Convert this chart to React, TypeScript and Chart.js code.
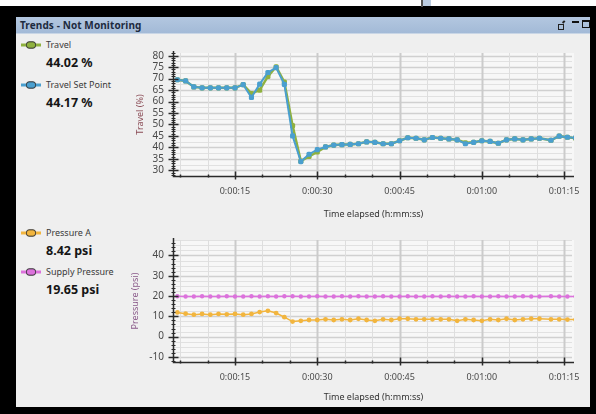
import React, { useEffect, useRef } from 'react';
import { Chart, registerables } from 'chart.js';

Chart.register(...registerables);

// ---------- data ----------
const TIME_S = [
  4.5, 6, 7.5, 9, 10.5, 12, 13.5, 15, 16.5, 18, 19.5, 21, 22.5, 24, 25.5, 27, 28.5,
  30, 31.5, 33, 34.5, 36, 37.5, 39, 40.5, 42, 43.5, 45, 46.5, 48, 49.5, 51, 52.5,
  54, 55.5, 57, 58.5, 60, 61.5, 63, 64.5, 66, 67.5, 69, 70.5, 72.6, 74.1, 75.6, 77.1,
];
const TRAVEL = [
  69.5, 69, 66.4, 66, 66, 66, 66, 66, 67.4, 63.5, 65, 71, 75.2, 68.5, 49.5, 34, 36,
  38, 40.2, 41, 41.2, 41.3, 41.6, 42.4, 42.2, 41.6, 41.6, 42.9, 44.2, 44, 43.3, 44.3,
  44, 43.7, 43.3, 42.0, 42.2, 42.9, 42.6, 41.8, 43.3, 43.7, 43.3, 43.7, 44, 43.1,
  44.9, 44.4, 44.0,
];
const TRAVEL_SET_POINT = [
  69.5, 69, 66.4, 66, 66, 66, 66, 66, 67.4, 61.8, 67.6, 72.7, 74.8, 67.5, 45, 33.8, 37,
  39, 40.2, 41, 41.2, 41.3, 41.6, 42.4, 42.2, 41.6, 41.6, 42.9, 44.2, 44, 43.3, 44.3,
  44, 43.7, 43.3, 41.6, 42.2, 42.9, 42.6, 41.8, 43.3, 43.7, 43.3, 43.7, 44, 43.1,
  44.9, 44.4, 44.2,
];
const PRESSURE_A = [
  11.9, 11.3, 10.8, 11.2, 10.8, 11.2, 11.0, 11.2, 10.8, 11.2, 12.1, 12.7, 11.6, 9.6,
  7.4, 7.8, 8.2, 8.2, 8.5, 8.2, 8.5, 8.2, 8.8, 8.2, 7.8, 8.5, 8.2, 8.8, 8.8, 8.5, 8.5,
  8.5, 8.5, 8.5, 7.8, 8.5, 8.2, 7.8, 8.5, 8.2, 8.8, 8.2, 8.5, 8.8, 8.8, 8.5, 8.5, 8.4,
  8.4,
];
const SUPPLY_PRESSURE = [
  19.9, 19.8, 19.8, 19.9, 19.8, 19.8, 19.9, 19.8, 19.8, 19.9, 19.8, 19.9, 19.8, 19.9,
  19.9, 19.8, 19.8, 19.9, 19.8, 19.8, 19.9, 19.8, 19.9, 19.8, 19.8, 19.9, 19.8, 19.8,
  19.9, 19.8, 19.8, 19.9, 19.8, 19.9, 19.8, 19.8, 19.9, 19.8, 19.8, 19.9, 19.8, 19.8,
  19.9, 19.8, 19.8, 19.9, 19.8, 19.8, 19.8,
];
const X_TICKS = [15, 30, 45, 60, 75];
const X_TICK_LABELS = ['0:00:15', '0:00:30', '0:00:45', '0:01:00', '0:01:15'];
const TRAVEL_Y_TICKS = [30, 35, 40, 45, 50, 55, 60, 65, 70, 75, 80];
const PRESSURE_Y_TICKS = [-10, 0, 10, 20, 30, 40];

const FONT = '"Noto Sans", "Open Sans", sans-serif';

const C_TRAVEL = '#8fb13f';
const C_SETPOINT = '#4a9fcf';
const C_PA = '#f2b53e';
const C_SUPPLY = '#dc72dc';

// ---------- custom grid / axis plugin ----------
const trendAxes = {
  id: 'trendAxes',
  beforeDatasetsDraw(chart: any, _args: any, opts: any) {
    const { ctx, chartArea: a, scales } = chart;
    const xs = scales.x;
    const ys = scales.y;
    ctx.save();
    ctx.fillStyle = '#f7f7f7';
    ctx.fillRect(a.left, a.top, a.right - a.left, a.bottom - a.top);
    const g = opts.yGrid;
    for (let v = Math.ceil(ys.min / g) * g; v <= ys.max + 1e-9; v += g) {
      const y = Math.round(ys.getPixelForValue(v)) + 0.5;
      const major = Math.abs(v / opts.yMajor - Math.round(v / opts.yMajor)) < 1e-6;
      ctx.strokeStyle = major ? '#d0d0d0' : '#e1e1e1';
      ctx.lineWidth = major ? 1.5 : 1;
      ctx.beginPath();
      ctx.moveTo(a.left, y);
      ctx.lineTo(a.right - 2, y);
      ctx.stroke();
    }
    for (let t = Math.ceil(xs.min / 5) * 5; t <= xs.max + 1e-9; t += 5) {
      const x = Math.round(xs.getPixelForValue(t)) + 0.5;
      const major = t % 15 === 0;
      ctx.strokeStyle = major ? '#cbcbcb' : '#dedede';
      ctx.lineWidth = major ? 2 : 1;
      ctx.beginPath();
      ctx.moveTo(x, a.top);
      ctx.lineTo(x, a.bottom);
      ctx.stroke();
    }
    ctx.restore();
  },
  afterDraw(chart: any, _args: any, opts: any) {
    const { ctx, chartArea: a, scales } = chart;
    const xs = scales.x;
    const ys = scales.y;
    ctx.save();
    ctx.strokeStyle = '#2b2b2b';
    ctx.lineWidth = 1.5;
    const lx = Math.round(a.left) + 0.5;
    const by = Math.round(a.bottom) + 0.5;
    ctx.beginPath();
    ctx.moveTo(lx, a.top - 2);
    ctx.lineTo(lx, by);
    ctx.lineTo(a.right, by);
    ctx.stroke();
    const m = opts.yMinor;
    for (let v = Math.ceil(ys.min / m) * m; v <= ys.max + 1e-9; v += m) {
      const y = Math.round(ys.getPixelForValue(v)) + 0.5;
      const major = Math.abs(v / opts.yLabelStep - Math.round(v / opts.yLabelStep)) < 1e-6;
      ctx.lineWidth = major ? 1.5 : 1;
      ctx.beginPath();
      ctx.moveTo(lx - (major ? 5 : 2), y);
      ctx.lineTo(lx + (major ? 5 : 2), y);
      ctx.stroke();
    }
    for (let t = Math.ceil(xs.min / 5) * 5; t <= xs.max + 1e-9; t += 5) {
      const x = Math.round(xs.getPixelForValue(t)) + 0.5;
      const major = t % 15 === 0;
      ctx.lineWidth = 1.5;
      ctx.beginPath();
      ctx.moveTo(x, by - (major ? 5 : 2));
      ctx.lineTo(x, by + (major ? 3 : 1));
      ctx.stroke();
    }
    ctx.restore();
  },
};

function xy(values: number[]) {
  return values.map((v, i) => ({ x: TIME_S[i], y: v }));
}

function baseOptions(
  yMin: number,
  yMax: number,
  yTicks: number[],
  yTitle: string,
  yTitleColor: string,
  yTitlePad: number,
  xHeight: number,
  topPad: number,
  plug: any,
) {
  const tickFont = { family: FONT, size: 9 };
  return {
    animation: false,
    responsive: false,
    maintainAspectRatio: false,
    events: [],
    layout: { padding: { top: topPad, right: 16, left: 0, bottom: 0 } },
    plugins: {
      legend: { display: false },
      tooltip: { enabled: false },
      trendAxes: plug,
    },
    scales: {
      x: {
        type: 'linear',
        min: 3.7,
        max: 76.8,
        grid: { display: false, drawTicks: false },
        border: { display: false },
        afterBuildTicks: (s: any) => {
          s.ticks = X_TICKS.map((v) => ({ value: v }));
        },
        ticks: {
          padding: 10,
          font: tickFont,
          color: '#4a4a4a',
          maxRotation: 0,
          autoSkip: false,
          callback: (v: number) => X_TICK_LABELS[X_TICKS.indexOf(v)] ?? '',
        },
        title: {
          display: true,
          text: 'Time elapsed (h:mm:ss)',
          color: '#333333',
          font: { family: FONT, size: 9 },
          padding: { top: 0, bottom: 4 },
        },
        afterFit: (s: any) => {
          s.height = xHeight;
        },
      },
      y: {
        type: 'linear',
        min: yMin,
        max: yMax,
        grid: { display: false, drawTicks: false },
        border: { display: false },
        afterBuildTicks: (s: any) => {
          s.ticks = yTicks.map((v) => ({ value: v }));
        },
        ticks: {
          padding: 9,
          font: { family: FONT, size: 10 },
          color: '#4a4a4a',
          autoSkip: false,
        },
        title: {
          display: true,
          text: yTitle,
          color: yTitleColor,
          font: { family: FONT, size: 9 },
          padding: { top: yTitlePad, bottom: 0 },
        },
        afterFit: (s: any) => {
          s.width = 48;
        },
      },
    },
  };
}

function TravelChart() {
  const ref = useRef<HTMLCanvasElement>(null);
  useEffect(() => {
    const chart = new Chart(ref.current as HTMLCanvasElement, {
      type: 'line',
      data: {
        datasets: [
          {
            label: 'Travel Set Point',
            data: xy(TRAVEL_SET_POINT),
            borderColor: C_SETPOINT,
            backgroundColor: C_SETPOINT,
            borderWidth: 2,
            pointStyle: 'rectRounded',
            pointRadius: 3,
            pointBorderWidth: 0,
            tension: 0,
            clip: 0,
            order: 0,
          },
          {
            label: 'Travel',
            data: xy(TRAVEL),
            borderColor: C_TRAVEL,
            backgroundColor: C_TRAVEL,
            borderWidth: 2.5,
            pointStyle: 'rectRounded',
            pointRadius: 3,
            pointBorderWidth: 0,
            tension: 0,
            clip: 0,
            order: 1,
          },
        ],
      },
      options: baseOptions(27.5, 81.2, TRAVEL_Y_TICKS, 'Travel (%)', '#8a4b55', 10, 48, 10, {
        yGrid: 2.5,
        yMajor: 5,
        yMinor: 1,
        yLabelStep: 5,
      }) as any,
      plugins: [trendAxes],
    });
    return () => chart.destroy();
  }, []);
  return (
    <canvas
      ref={ref}
      width={465}
      height={186}
      style={{ position: 'absolute', left: 125, top: 38, width: 465, height: 186 }}
    />
  );
}

function PressureChart() {
  const ref = useRef<HTMLCanvasElement>(null);
  useEffect(() => {
    const chart = new Chart(ref.current as HTMLCanvasElement, {
      type: 'line',
      data: {
        datasets: [
          {
            label: 'Supply Pressure',
            data: xy(SUPPLY_PRESSURE),
            borderColor: C_SUPPLY,
            backgroundColor: C_SUPPLY,
            borderWidth: 1.5,
            pointRadius: 2.2,
            pointBorderWidth: 0,
            tension: 0,
            clip: 0,
          },
          {
            label: 'Pressure A',
            data: xy(PRESSURE_A),
            borderColor: C_PA,
            backgroundColor: C_PA,
            borderWidth: 1.5,
            pointRadius: 2.4,
            pointBorderWidth: 0,
            tension: 0,
            clip: 0,
          },
        ],
      },
      options: baseOptions(-12.5, 47.6, PRESSURE_Y_TICKS, 'Pressure (psi)', '#8a5a8a', 5, 45, 8, {
        yGrid: 2.5,
        yMajor: 10,
        yMinor: 2,
        yLabelStep: 10,
      }) as any,
      plugins: [trendAxes],
    });
    return () => chart.destroy();
  }, []);
  return (
    <canvas
      ref={ref}
      width={465}
      height={182}
      style={{ position: 'absolute', left: 125, top: 225, width: 465, height: 182 }}
    />
  );
}

function LegendIcon({ color, top }: { color: string; top: number }) {
  return (
    <svg
      width={20}
      height={10}
      style={{ position: 'absolute', left: 21, top }}
      viewBox="0 0 20 10"
    >
      <line x1={0} y1={5} x2={20} y2={5} stroke={color} strokeWidth={3} />
      <rect x={5.5} y={1.8} width={9} height={6.4} rx={2.5} fill={color} stroke="#333" strokeWidth={1} />
    </svg>
  );
}

function LegendEntry({
  color,
  name,
  value,
  top,
}: {
  color: string;
  name: string;
  value: string;
  top: number;
}) {
  return (
    <>
      <LegendIcon color={color} top={top - 5} />
      <div
        style={{
          position: 'absolute',
          left: 46,
          top: top - 7,
          font: `9px ${FONT}`,
          color: '#3a3a3a',
          whiteSpace: 'nowrap',
        }}
      >
        {name}
      </div>
      <div
        style={{
          position: 'absolute',
          left: 46,
          top: top + 9,
          font: `bold 12.5px ${FONT}`,
          color: '#151515',
          whiteSpace: 'nowrap',
        }}
      >
        {value}
      </div>
    </>
  );
}

const bar = (left: number, top: number, width: number, height: number, bg: string) => (
  <div style={{ position: 'absolute', left, top, width, height, background: bg, zIndex: 5 }} />
);

export default function App() {
  return (
    <div
      style={{
        position: 'fixed',
        left: 0,
        top: 0,
        width: 596,
        height: 414,
        background: '#000000',
        overflow: 'hidden',
        fontFamily: FONT,
      }}
    >
      <div style={{ position: 'absolute', left: 16, top: 17, width: 574, height: 390, background: '#efefef' }} />
      <div
        style={{
          position: 'absolute',
          left: 16,
          top: 17,
          width: 574,
          height: 16,
          background: 'linear-gradient(#b3c7e0, #a3bad7)',
          borderBottom: '1px solid #c9d6e6',
        }}
      />
      <div
        style={{
          position: 'absolute',
          left: 20,
          top: 18,
          font: `bold 10px ${FONT}`,
          letterSpacing: 0.1,
          color: '#1d2b3f',
          whiteSpace: 'nowrap',
        }}
      >
        Trends - Not Monitoring
      </div>
      <div style={{ position: 'absolute', left: 558, top: 24, width: 4, height: 4, border: '1px solid #222' }} />
      <div style={{ position: 'absolute', left: 562, top: 21, width: 3, height: 1.5, background: '#222', transform: 'rotate(-45deg)' }} />
      <div style={{ position: 'absolute', left: 572, top: 21, width: 7, height: 2, background: '#111' }} />
      <div
        style={{
          position: 'absolute',
          left: 582,
          top: 20,
          width: 6,
          height: 5,
          border: '1.5px solid #111',
          borderTopWidth: 2.5,
        }}
      />

      <LegendEntry color={C_TRAVEL} name="Travel" value="44.02 %" top={45} />
      <LegendEntry color={C_SETPOINT} name="Travel Set Point" value="44.17 %" top={85} />
      <LegendEntry color={C_PA} name="Pressure A" value="8.42 psi" top={233} />
      <LegendEntry color={C_SUPPLY} name="Supply Pressure" value="19.65 psi" top={272} />

      <TravelChart />
      <PressureChart />

      {/* outer frame */}
      {bar(0, 0, 596, 6, '#ffffff')}
      {bar(0, 6, 596, 11, '#000000')}
      {bar(0, 6, 16, 408, '#000000')}
      {bar(590, 6, 6, 408, '#000000')}
      {bar(0, 407, 596, 7, '#000000')}
      {bar(421, 0, 2, 7, '#555555')}
      {bar(423, 0, 8, 6, '#bccde2')}
    </div>
  );
}
